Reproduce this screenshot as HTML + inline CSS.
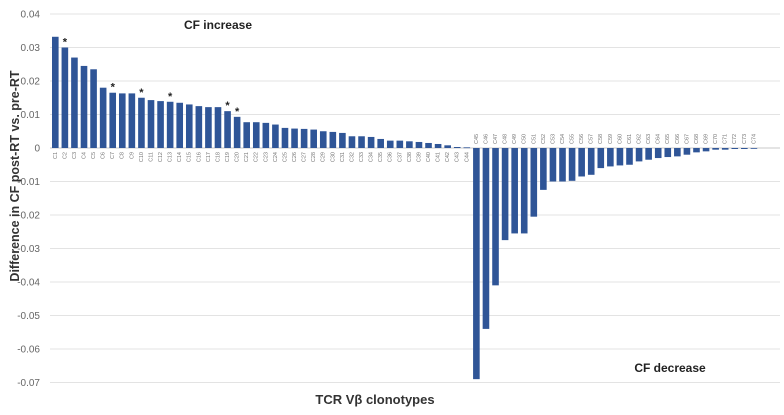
<!DOCTYPE html>
<html><head><meta charset="utf-8"><style>
body{margin:0;background:#fff;}
svg{display:block;font-family:"Liberation Sans",sans-serif;}
</style></head><body>
<svg id="c" width="784" height="415"></svg>
<script>
const categories = Array.from({length:74},(_,i)=>'C'+(i+1));
const values = [0.0332,0.030,0.027,0.0245,0.0235,0.018,0.0165,0.0163,0.0163,0.015,0.0143,0.014,0.0138,0.0135,0.013,0.0125,0.0122,0.0122,0.011,0.0093,0.0077,0.0077,0.0075,0.007,0.006,0.0058,0.0057,0.0055,0.005,0.0048,0.0045,0.0035,0.0035,0.0033,0.0027,0.0022,0.0022,0.002,0.0018,0.0015,0.0012,0.0008,0.0003,0.0002,
-0.069,-0.054,-0.041,-0.0275,-0.0255,-0.0255,-0.0205,-0.0125,-0.010,-0.010,-0.0098,-0.0085,-0.008,-0.006,-0.0055,-0.0052,-0.005,-0.004,-0.0035,-0.003,-0.0027,-0.0025,-0.002,-0.0013,-0.001,-0.0005,-0.0005,-0.0003,-0.0003,-0.0001];
const starred = ['C2','C7','C10','C13','C19','C20'];
const yTicks = [0.04,0.03,0.02,0.01,0,-0.01,-0.02,-0.03,-0.04,-0.05,-0.06,-0.07];
const yTickLabels = ['0.04','0.03','0.02','0.01','0','-0.01','-0.02','-0.03','-0.04','-0.05','-0.06','-0.07'];

const NS='http://www.w3.org/2000/svg', svg=document.getElementById('c');
const y=v=>148 - v*3350;
const x0=50.5, bw=9.57;
const x=i=>x0+i*bw;
function mk(t,a,txt){const e=document.createElementNS(NS,t);for(const k in a)e.setAttribute(k,a[k]);if(txt!=null)e.textContent=txt;svg.appendChild(e);return e;}

yTicks.forEach((v,i)=>{
  const g=mk('line',{x1:50,x2:780,y1:y(v),y2:y(v),stroke:v===0?'#c8c8c8':'#e3e3e3','stroke-width':1});
  
  
  const t=mk('text',{x:40,y:y(v)+3.5,'text-anchor':'end','font-size':10,fill:'#666'},yTickLabels[i]);
  
  
});

values.forEach((v,i)=>{
  const top=Math.min(y(v),y(0)), h=Math.abs(y(v)-y(0));
  const r=mk('rect',{x:x(i)+1.5,y:top,width:6.6,height:Math.max(h,0.8),fill:'#2f5597'});
  
  
  const cx=x(i)+4.8;
  const ly=v>=0? y(0)+4 : y(0)-4;
  const t=mk('text',{x:cx,y:ly,'font-size':5.5,fill:'#777','text-anchor':v>=0?'end':'start',transform:`rotate(-90 ${cx} ${ly})`,'dominant-baseline':'middle'},categories[i]);
  
  
  if(starred.includes(categories[i])){
    const s=mk('text',{x:cx,y:y(v)-2,'text-anchor':'middle','font-size':11,'font-weight':'bold',fill:'#222'},'*');
    
    
  }
});
</script>
<script>
(function(){
const NS='http://www.w3.org/2000/svg', svg=document.getElementById('c');
function mk(a,txt,name){const e=document.createElementNS(NS,'text');for(const k in a)e.setAttribute(k,a[k]);e.textContent=txt;


svg.appendChild(e);}
mk({x:218,y:29,'text-anchor':'middle','font-size':12,'font-weight':'bold',fill:'#222'},'CF increase','cf-increase-label');
mk({x:670,y:372,'text-anchor':'middle','font-size':12,'font-weight':'bold',fill:'#222'},'CF decrease','cf-decrease-label');
mk({x:375,y:404,'text-anchor':'middle','font-size':13,'font-weight':'bold',fill:'#333'},'TCR Vβ clonotypes','x-axis-title');
mk({x:0,y:0,'text-anchor':'middle','font-size':12.5,'font-weight':'bold',fill:'#333',transform:'translate(19 176) rotate(-90)'},'Difference in CF post-RT vs. pre-RT','y-axis-title');
})();
</script>
</body></html>
